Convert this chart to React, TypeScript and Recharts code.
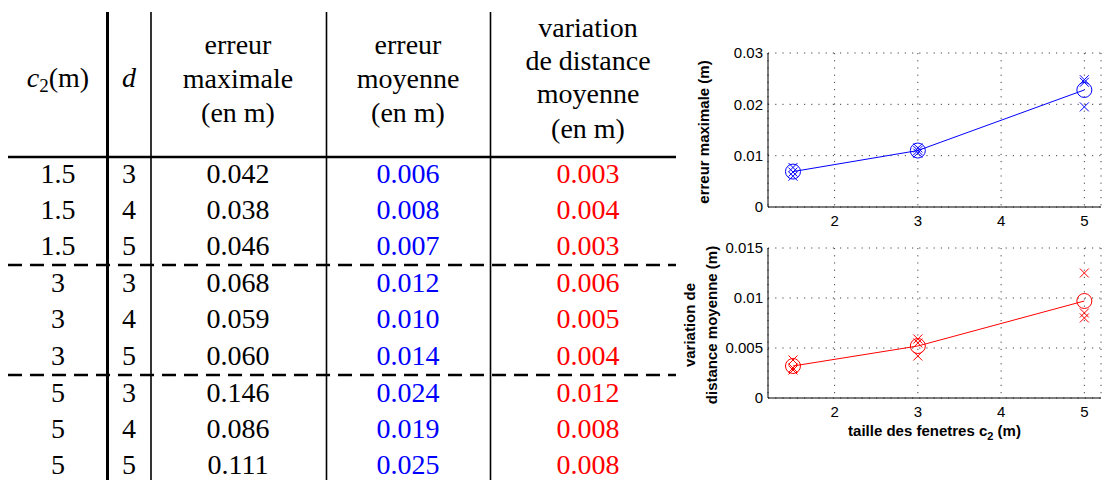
import { CartesianGrid, Label, Scatter, ScatterChart, XAxis, YAxis } from 'recharts';

document.body.style.margin = '0';

// table values
const c2Values = [1.5, 1.5, 1.5, 3, 3, 3, 5, 5, 5];
const dValues = [3, 4, 5, 3, 4, 5, 3, 4, 5];
const erreurMax = [0.042, 0.038, 0.046, 0.068, 0.059, 0.06, 0.146, 0.086, 0.111];
const erreurMoy = [0.006, 0.008, 0.007, 0.012, 0.01, 0.014, 0.024, 0.019, 0.025];
const variationDist = [0.003, 0.004, 0.003, 0.006, 0.005, 0.004, 0.012, 0.008, 0.008];

// chart values
const windowSizes = [1.5, 3, 5];
const topRuns = [
  [0.0077, 0.0068, 0.006],
  [0.0115, 0.0105, 0.011],
  [0.0248, 0.0243, 0.0195],
];
const topMeans = [0.0069, 0.011, 0.0228];
const bottomRuns = [
  [0.0038, 0.003, 0.0028],
  [0.0059, 0.0055, 0.0042],
  [0.0125, 0.0085, 0.008],
];
const bottomMeans = [0.0032, 0.0052, 0.0097];

const xTicks = [2, 3, 4, 5];
const topTicks = [0, 0.01, 0.02, 0.03];
const bottomTicks = [0, 0.005, 0.01, 0.015];

const BLUE = '#0000ff';
const RED = '#ff0000';
const SERIF = "'Liberation Serif', 'DejaVu Serif', serif";
const SANS = "'Liberation Sans', Arial, sans-serif";

const toPoints = (xs: number[], ys: number[]) => xs.map((x, i) => ({ x, y: ys[i] }));
const runPoints = (runs: number[][]) =>
  runs.flatMap((r, i) => r.map((y) => ({ x: windowSizes[i], y })));

const crossShape = (color: string) => (p: any) => {
  const s = 4.5;
  return (
    <path
      d={`M${p.cx - s},${p.cy - s}L${p.cx + s},${p.cy + s}M${p.cx - s},${p.cy + s}L${p.cx + s},${p.cy - s}`}
      stroke={color}
      strokeWidth={1}
      fill="none"
    />
  );
};

const circleShape = (color: string) => (p: any) => (
  <circle cx={p.cx} cy={p.cy} r={7.5} fill="none" stroke={color} strokeWidth={1} />
);

const tickStyle = { fontSize: 15, fill: '#000', fontFamily: SANS };

function SmallPlot({
  runs,
  means,
  color,
  yTicks,
  height,
  top,
  xHeight,
  yLabel,
  xLabel,
}: {
  runs: number[][];
  means: number[];
  color: string;
  yTicks: number[];
  height: number;
  top: number;
  xHeight: number;
  yLabel: string[];
  xLabel?: boolean;
}) {
  return (
    <ScatterChart width={423} height={height} margin={{ top, right: 2, bottom: 0, left: 0 }}>
      <CartesianGrid stroke="#444" strokeDasharray="1.2 6" />
      <XAxis
        type="number"
        dataKey="x"
        domain={[1.2, 5.2]}
        ticks={xTicks}
        allowDataOverflow
        height={xHeight}
        tick={tickStyle}
        tickLine={false}
        axisLine={{ stroke: '#000' }}
      >
        {xLabel && (
          <Label
            content={(props: any) => {
              const vb = props.viewBox;
              return (
                <text
                  x={vb.x + vb.width / 2}
                  y={vb.y + 38}
                  textAnchor="middle"
                  style={{ fontFamily: SANS, fontWeight: 'bold', fontSize: 15 }}
                >
                  taille des fenetres c
                  <tspan fontSize={11} dy={4}>2</tspan>
                  <tspan dy={-4}> (m)</tspan>
                </text>
              );
            }}
          />
        )}
      </XAxis>
      <YAxis
        type="number"
        dataKey="y"
        domain={[yTicks[0], yTicks[yTicks.length - 1]]}
        ticks={yTicks}
        width={88}
        tick={tickStyle}
        tickLine={false}
        tickSize={3}
        axisLine={{ stroke: '#000' }}
      >
        <Label
          content={(props: any) => {
            const vb = props.viewBox;
            const cy = vb.y + vb.height / 2 + 2;
            const x0 = yLabel.length > 1 ? vb.x + 9 : vb.x + 23;
            return (
              <g>
                {yLabel.map((line, i) => (
                  <text
                    key={line}
                    x={x0 + i * 22}
                    y={cy}
                    transform={`rotate(-90 ${x0 + i * 22} ${cy})`}
                    textAnchor="middle"
                    dominantBaseline="central"
                    style={{ fontFamily: SANS, fontWeight: 'bold', fontSize: 15 }}
                  >
                    {line}
                  </text>
                ))}
              </g>
            );
          }}
        />
      </YAxis>
      <Scatter
        data={toPoints(windowSizes, means)}
        line={{ stroke: color, strokeWidth: 1 }}
        shape={circleShape(color)}
        isAnimationActive={false}
      />
      <Scatter data={runPoints(runs)} shape={crossShape(color)} isAnimationActive={false} />
    </ScatterChart>
  );
}

const colX = [58, 129, 238, 408, 588];
const rowY = [173, 209, 245, 282, 318, 355, 392, 428, 464];
const serifStyle = { fontFamily: SERIF, fontSize: 28 };

function ResultsTable() {
  const cell = (x: number, y: number, v: string, color = '#000') => (
    <text x={x} y={y + 9.5} textAnchor="middle" fill={color} style={serifStyle}>
      {v}
    </text>
  );
  const head = (x: number, y: number, v: string) => (
    <text x={x} y={y} textAnchor="middle" style={serifStyle}>
      {v}
    </text>
  );
  return (
    <svg width={680} height={480} style={{ position: 'absolute', left: 0, top: 0 }}>
      <text x={colX[0]} y={87} textAnchor="middle" style={serifStyle}>
        <tspan fontStyle="italic">c</tspan>
        <tspan fontSize={19} dy={5}>2</tspan>
        <tspan dy={-5}>(m)</tspan>
      </text>
      <text x={colX[1]} y={87} textAnchor="middle" fontStyle="italic" style={serifStyle}>d</text>
      {head(colX[2], 54, 'erreur')}
      {head(colX[2], 88, 'maximale')}
      {head(colX[2], 122, '(en m)')}
      {head(colX[3], 54, 'erreur')}
      {head(colX[3], 88, 'moyenne')}
      {head(colX[3], 122, '(en m)')}
      {head(colX[4], 37, 'variation')}
      {head(colX[4], 70, 'de distance')}
      {head(colX[4], 103, 'moyenne')}
      {head(colX[4], 138, '(en m)')}
      {rowY.map((y, i) => (
        <g key={i}>
          {cell(colX[0], y, String(c2Values[i]))}
          {cell(colX[1], y, String(dValues[i]))}
          {cell(colX[2], y, erreurMax[i].toFixed(3))}
          {cell(colX[3], y, erreurMoy[i].toFixed(3), BLUE)}
          {cell(colX[4], y, variationDist[i].toFixed(3), RED)}
        </g>
      ))}
      <line x1={107.5} x2={107.5} y1={12} y2={480} stroke="#000" strokeWidth={3} />
      <line x1={151} x2={151} y1={12} y2={480} stroke="#000" strokeWidth={1.6} />
      <line x1={326.5} x2={326.5} y1={12} y2={480} stroke="#000" strokeWidth={1.6} />
      <line x1={490.5} x2={490.5} y1={12} y2={480} stroke="#000" strokeWidth={1.6} />
      <line x1={8} x2={676} y1={157} y2={157} stroke="#000" strokeWidth={2.5} />
      <line x1={8} x2={676} y1={265} y2={265} stroke="#000" strokeWidth={2.5} strokeDasharray="14 8" />
      <line x1={8} x2={676} y1={375} y2={375} stroke="#000" strokeWidth={2.5} strokeDasharray="14 8" />
    </svg>
  );
}

export default function App() {
  return (
    <div style={{ position: 'relative', width: 1103, height: 480, overflow: 'hidden', background: '#fff' }}>
      <ResultsTable />
      <div style={{ position: 'absolute', left: 680, top: 30 }}>
        <SmallPlot
          runs={topRuns}
          means={topMeans}
          color={BLUE}
          yTicks={topTicks}
          height={202}
          top={23}
          xHeight={25}
          yLabel={['erreur maximale (m)']}
        />
      </div>
      <div style={{ position: 'absolute', left: 680, top: 230 }}>
        <SmallPlot
          runs={bottomRuns}
          means={bottomMeans}
          color={RED}
          yTicks={bottomTicks}
          height={213}
          top={18}
          xHeight={45}
          yLabel={['variation de', 'distance moyenne (m)']}
          xLabel
        />
      </div>
    </div>
  );
}
